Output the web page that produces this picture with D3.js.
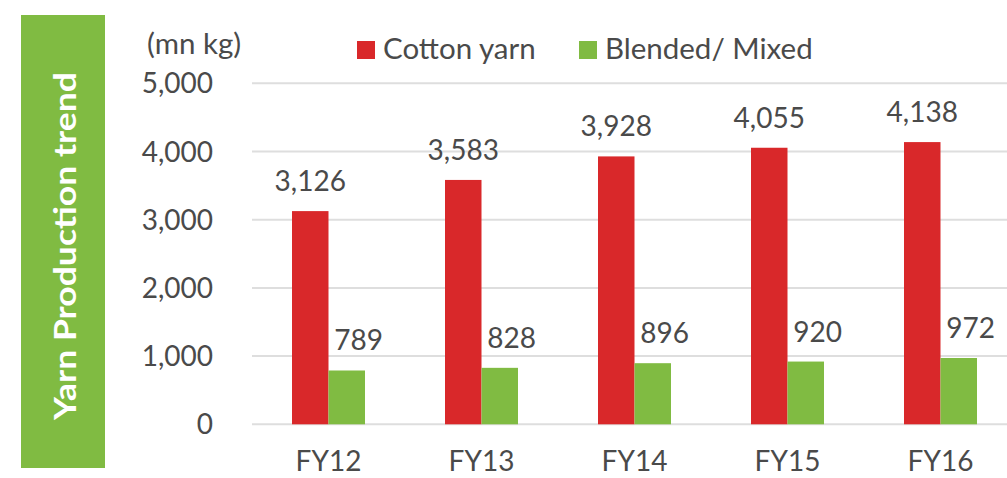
<!DOCTYPE html>
<html>
<head>
<meta charset="utf-8">
<script src="https://cdn.jsdelivr.net/npm/d3@7"></script>
<style>
  body { margin: 0; background: #fff; }
  svg { display: block; font-family: Lato, "Open Sans", sans-serif; }
</style>
</head>
<body>
<svg id="chart"></svg>
<script>
// data
const years = ['FY12', 'FY13', 'FY14', 'FY15', 'FY16'];
const cottonYarn = [3126, 3583, 3928, 4055, 4138];
const blendedMixed = [789, 828, 896, 920, 972];
const yTicks = [0, 1000, 2000, 3000, 4000, 5000];
const seriesNames = ['Cotton yarn', 'Blended/ Mixed'];

// set up constants
const width = 1007;
const height = 478;
const plotLeft = 252;
const plotRight = 1017;
const zeroY = 424.3;
const topY = 83.3;
const red = '#d9282a';
const green = '#80bb42';
const textColor = '#4a4a4a';
const gridColor = '#dedede';

const svg = d3.select('#chart')
  .attr('width', width)
  .attr('height', height);

// scales
const xScale = d3.scaleBand()
  .domain(years)
  .range([plotLeft, plotRight])
  .paddingInner(0.523)
  .paddingOuter(0.2615);

const xInner = d3.scaleBand()
  .domain(seriesNames)
  .range([0, xScale.bandwidth()]);

const yScale = d3.scaleLinear()
  .domain([0, 5000])
  .range([zeroY, topY]);

const color = d3.scaleOrdinal()
  .domain(seriesNames)
  .range([red, green]);

// title band
svg.append('rect')
  .attr('x', 21)
  .attr('y', 15)
  .attr('width', 84)
  .attr('height', 453)
  .attr('fill', green);

svg.append('text')
  .attr('transform', 'translate(76, 246) rotate(-90)')
  .attr('text-anchor', 'middle')
  .attr('fill', '#fff')
  .attr('font-weight', 'bold')
  .attr('font-size', 30)
  .attr('textLength', 348)
  .attr('lengthAdjust', 'spacingAndGlyphs')
  .text('Yarn Production trend');

// gridlines
svg.append('g')
  .selectAll('line')
  .data(yTicks)
  .enter()
  .append('line')
  .attr('x1', plotLeft)
  .attr('x2', width)
  .attr('y1', d => yScale(d))
  .attr('y2', d => yScale(d))
  .attr('stroke', gridColor)
  .attr('stroke-width', 2);

// y tick labels
svg.append('g')
  .selectAll('text')
  .data(yTicks)
  .enter()
  .append('text')
  .attr('x', 213)
  .attr('y', d => yScale(d) + 10)
  .attr('text-anchor', 'end')
  .attr('font-size', 28)
  .attr('fill', textColor)
  .text(d => d3.format(',')(d));

// unit label
svg.append('text')
  .attr('x', 147)
  .attr('y', 54)
  .attr('font-size', 29.5)
  .attr('fill', textColor)
  .text('(mn kg)');

// bars
const rows = years.map((year, i) => ({
  year,
  values: [
    { name: seriesNames[0], value: cottonYarn[i] },
    { name: seriesNames[1], value: blendedMixed[i] }
  ]
}));

const groups = svg.append('g')
  .selectAll('g')
  .data(rows)
  .enter()
  .append('g')
  .attr('transform', d => `translate(${xScale(d.year)}, 0)`);

groups.selectAll('rect')
  .data(d => d.values)
  .enter()
  .append('rect')
  .attr('x', d => xInner(d.name))
  .attr('y', d => yScale(d.value))
  .attr('width', xInner.bandwidth())
  .attr('height', d => zeroY - yScale(d.value))
  .attr('fill', d => color(d.name));

// value labels (green labels sit a bit right of their bar)
groups.selectAll('text')
  .data(d => d.values)
  .enter()
  .append('text')
  .attr('x', d => xInner(d.name) + xInner.bandwidth() / 2 + (d.name === seriesNames[1] ? 12 : 0))
  .attr('y', d => yScale(d.value) - 20)
  .attr('text-anchor', 'middle')
  .attr('font-size', 28)
  .attr('fill', textColor)
  .text(d => d3.format(',')(d.value));

// x labels
svg.append('g')
  .selectAll('text')
  .data(years)
  .enter()
  .append('text')
  .attr('x', d => xScale(d) + xScale.bandwidth() / 2)
  .attr('y', 471)
  .attr('text-anchor', 'middle')
  .attr('font-size', 28)
  .attr('fill', textColor)
  .text(d => d);

// legend
const legendX = [357, 579];
const legend = svg.append('g')
  .selectAll('g')
  .data(seriesNames)
  .enter()
  .append('g')
  .attr('transform', (d, i) => `translate(${legendX[i]}, 41)`);

legend.append('rect')
  .attr('width', 18)
  .attr('height', 18)
  .attr('fill', d => color(d));

legend.append('text')
  .attr('x', 26)
  .attr('y', 18)
  .attr('font-size', 29.5)
  .attr('fill', textColor)
  .text(d => d);
</script>
</body>
</html>
